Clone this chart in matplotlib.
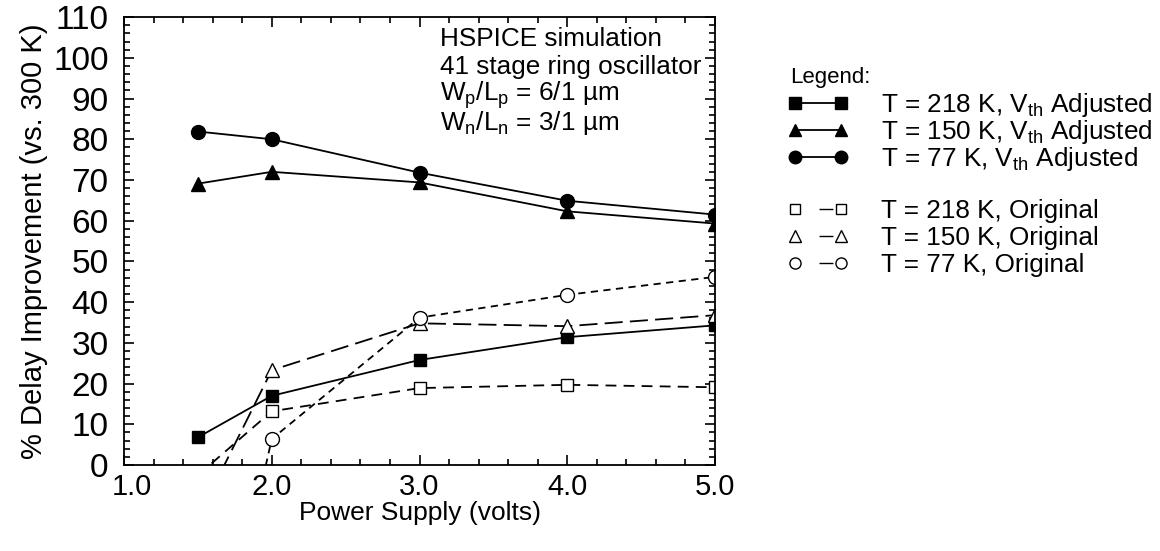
import matplotlib
matplotlib.use("Agg")
import matplotlib.pyplot as plt
import matplotlib.transforms as mtransforms
from matplotlib.lines import Line2D
from matplotlib.ticker import MultipleLocator

plt.rcParams['font.family'] = ['Liberation Sans', 'DejaVu Sans']
plt.rcParams['mathtext.fontset'] = 'custom'
plt.rcParams['mathtext.rm'] = 'Liberation Sans'
plt.rcParams['mathtext.it'] = 'Liberation Sans:italic'

## datos
voltaje = [1.5, 2.0, 3.0, 4.0, 5.0]
adj_218 = [6.8, 17.0, 25.8, 31.4, 34.3]
adj_150 = [69.1, 72.0, 69.4, 62.3, 59.3]
adj_77 = [81.9, 80.0, 71.8, 64.9, 61.5]
orig_218 = [-2.5, 13.2, 18.9, 19.7, 19.1]
orig_150 = [-13.0, 23.3, 34.8, 34.1, 36.8]
orig_77 = [-74.0, 6.4, 36.2, 41.8, 46.2]

xticks = [1.0, 2.0, 3.0, 4.0, 5.0]
yticks = list(range(0, 111, 10))

fig = plt.figure(figsize=(11.6, 5.51), dpi=100)
ax = fig.add_axes([0.1069, 0.156, 0.5095, 0.813])

lw = 1.3
ax.plot(voltaje, adj_218, '-', color='black', lw=lw, marker='s', ms=9, mfc='black')
ax.plot(voltaje, adj_150, '-', color='black', lw=lw, marker='^', ms=10, mfc='black')
ax.plot(voltaje, adj_77, '-', color='black', lw=lw, marker='o', ms=10, mfc='black')
ax.plot(voltaje, orig_218, color='black', lw=lw, dashes=(6, 4), marker='s', ms=9, mfc='white')
ax.plot(voltaje, orig_150, color='black', lw=lw, dashes=(10, 4), marker='^', ms=10, mfc='white')
ax.plot(voltaje, orig_77, color='black', lw=lw, dashes=(4, 3), marker='o', ms=10, mfc='white')

ax.set_xlim(1.0, 5.0)
ax.set_ylim(0, 110)
ax.set_xticks(xticks)
ax.set_xticklabels(['%.1f' % v for v in xticks])
ax.set_yticks(yticks)
ax.xaxis.set_minor_locator(MultipleLocator(0.2))
ax.yaxis.set_minor_locator(MultipleLocator(2))
ax.tick_params(which='both', direction='in', top=True, right=True, width=1.2)
ax.tick_params(which='major', length=7)
ax.tick_params(which='minor', length=4)
ax.tick_params(axis='y', pad=11, labelsize=24)
ax.tick_params(axis='x', pad=6, labelsize=21)
for s in ax.spines.values():
    s.set_linewidth(1.3)
## el "1.0" va un poco a la derecha como en el original
lab0 = ax.get_xticklabels()[0]
lab0.set_transform(lab0.get_transform() + mtransforms.ScaledTranslation(8 / 100, 0, fig.dpi_scale_trans))

ax.set_xlabel('Power Supply (volts)', fontsize=19, labelpad=0)
ax.set_ylabel('% Delay Improvement (vs. 300 K)', fontsize=21, labelpad=4)

## texto de la simulacion
info = ['HSPICE simulation', '41 stage ring oscillator',
        r'W$_{\rm p}$/L$_{\rm p}$ = 6/1 µm', r'W$_{\rm n}$/L$_{\rm n}$ = 3/1 µm']
for i, t in enumerate(info):
    ax.text(0.535, 0.95 - i * 0.062, t, transform=ax.transAxes, fontsize=18.8, va='center')

## leyenda (dos bloques para igualar el espaciado)
guion = (92.7, (10, 100))  # un solo guion corto entre los dos marcadores
handles_adj = [
    Line2D([], [], color='black', lw=lw, marker='s', ms=8, mfc='black'),
    Line2D([], [], color='black', lw=lw, marker='^', ms=9, mfc='black'),
    Line2D([], [], color='black', lw=lw, marker='o', ms=9, mfc='black'),
]
handles_orig = [
    Line2D([], [], color='black', lw=1.0, ls=guion, marker='s', ms=7, mfc='white'),
    Line2D([], [], color='black', lw=1.0, ls=guion, marker='^', ms=8, mfc='white'),
    Line2D([], [], color='black', lw=1.0, ls=guion, marker='o', ms=8, mfc='white'),
]
labels_adj = [r'T = 218 K, V$_{\rm th}$ Adjusted', r'T = 150 K, V$_{\rm th}$ Adjusted',
              r'T = 77 K, V$_{\rm th}$ Adjusted']
labels_orig = ['T = 218 K, Original', 'T = 150 K, Original', 'T = 77 K, Original']

fig.text(0.681, 0.86, 'Legend:', fontsize=16, va='center')
opts = dict(loc='upper left', frameon=False, fontsize=18.8, numpoints=2, handlelength=2.34,
            handletextpad=1.25, borderpad=0, borderaxespad=0)
fig.legend(handles_adj, labels_adj, bbox_to_anchor=(0.679, 0.835), labelspacing=-0.03, **opts)
fig.legend(handles_orig, labels_orig, bbox_to_anchor=(0.679, 0.639), labelspacing=0.12, **opts)

fig.savefig('out.png', dpi=100)
